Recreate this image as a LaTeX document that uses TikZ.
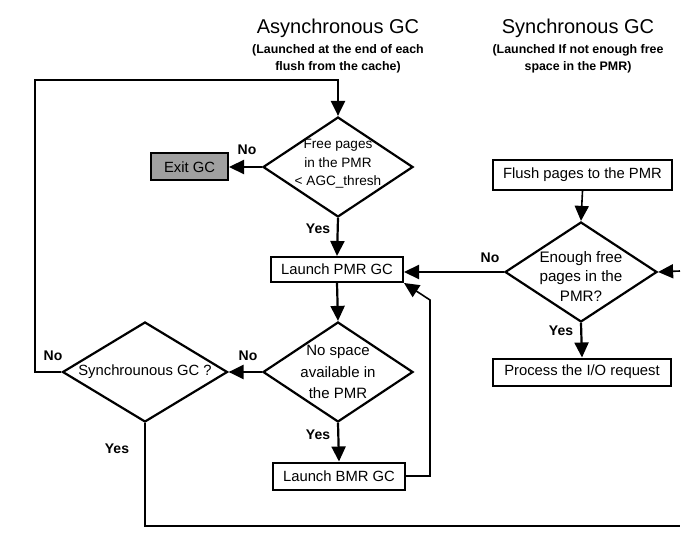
\documentclass[tikz,border=0pt]{standalone}
\usepackage{fontspec}
\setmainfont{Liberation Sans}
\usetikzlibrary{arrows.meta,positioning,shapes.geometric}
\definecolor{exitgray}{RGB}{160,160,160}

\begin{document}
\begin{tikzpicture}[x=1pt, y=-1pt,
      box/.style={rectangle, draw=black, line width=2pt, minimum height=27pt, inner sep=2pt, font=\fontsize{14.8}{17}\selectfont},
      dia/.style={diamond, draw=black, line width=2.2pt, inner sep=0pt, minimum width=150pt, minimum height=100pt},
      dtext/.style={align=center, inner sep=0pt, font=\fontsize{13.6}{18.5}\selectfont},
      lbl/.style={inner sep=0pt, font=\bfseries\fontsize{14}{16}\selectfont},
      ttl/.style={inner sep=0pt, font=\fontsize{20}{24}\selectfont},
      sub/.style={inner sep=0pt, align=center, font=\bfseries\fontsize{12.4}{17}\selectfont},
      arr/.style={-{Triangle[length=15pt,width=14pt]}, line width=2.2pt},
      thin/.style={line width=1.6pt}
    ]
      \useasboundingbox (0,0) rectangle (699,548);

      % Titles
      \node[ttl] (atitle) at (338,28) {Asynchronous GC};
      \node[sub, below=7pt of atitle] (asub) {(Launched at the end of each\\flush from the cache)};
      \node[ttl] (stitle) at (578,28) {Synchronous GC};
      \node[sub, below=7pt of stitle] (ssub) {(Launched If not enough free\\space in the PMR)};

      % Asynchronous column
      \node[dia] (free) at (338,167) {};
      \node[dtext] at (338,164) {Free pages\\in the PMR\\< AGC\_thresh};
      \node[box, fill=exitgray, minimum width=77pt] (exit) at (189.5,167) {Exit GC};
      \node[box, minimum width=132pt, minimum height=25pt] (pmr) at (337,269.5) {Launch PMR GC};
      \node[dia] (nospace) at (338,372) {};
      \node[dtext, font=\fontsize{15}{21.5}\selectfont] at (nospace) {No space\\available in\\the PMR};
      \node[box, minimum width=132pt] (bmr) at (339,476) {Launch BMR GC};
      \node[dia, minimum width=165pt] (sync) at (145,372) {};
      \node[dtext, font=\fontsize{14.8}{17}\selectfont] at (sync) {Synchrounous GC ?};

      % Synchronous column
      \node[box, minimum width=179pt, minimum height=30pt] (flush) at (582.5,175) {Flush pages to the PMR};
      \node[dia, minimum width=152pt] (enough) at (581,272) {};
      \node[dtext, font=\fontsize{15.2}{19.5}\selectfont] at (581,276) {Enough free\\pages in the\\PMR?};
      \node[box, minimum width=178pt] (proc) at (582,372) {Process the I/O request};

      % Corners of the loops
      \coordinate (topleft) at (35,80);
      \coordinate (bmrloop) at (430,300);
      \coordinate (botright) at (680,526);
      \coordinate (rightin) at (680,271);

      % Connectors
      \draw[arr] (free.west) -- (exit.east);
      \draw[arr] (free.south) -- (pmr.north);
      \draw[arr] (pmr.south) -- (nospace.north);
      \draw[arr] (nospace.west) -- (sync.east);
      \draw[arr] (nospace.south) -- (bmr.north);
      \draw[arr, thin] (bmr.east) -| (bmrloop) -- (pmr.south east);
      \draw[arr] (sync.west) -| (topleft) -| (free.north);
      \draw[thin] (sync.south) |- (botright);
      \draw[arr, thin] (flush.south) -- (enough.north);
      \draw[arr] (enough.west) -- (enough.west -| pmr.east);
      \draw[arr] (enough.south) -- (proc.north);
      \draw[arr, thin] (rightin) -- (enough.east);

      % Yes / No labels
      \node[lbl] (no1) at (247,150) {No};
      \node[lbl] (yes1) at (318,229) {Yes};
      \node[lbl] (no2) at (248,356) {No};
      \node[lbl] (yes2) at (318,435) {Yes};
      \node[lbl] (no3) at (53,356) {No};
      \node[lbl] (yes3) at (117,449) {Yes};
      \node[lbl] (no4) at (490,258) {No};
      \node[lbl] (yes4) at (561,331) {Yes};
    \end{tikzpicture}
\end{document}
